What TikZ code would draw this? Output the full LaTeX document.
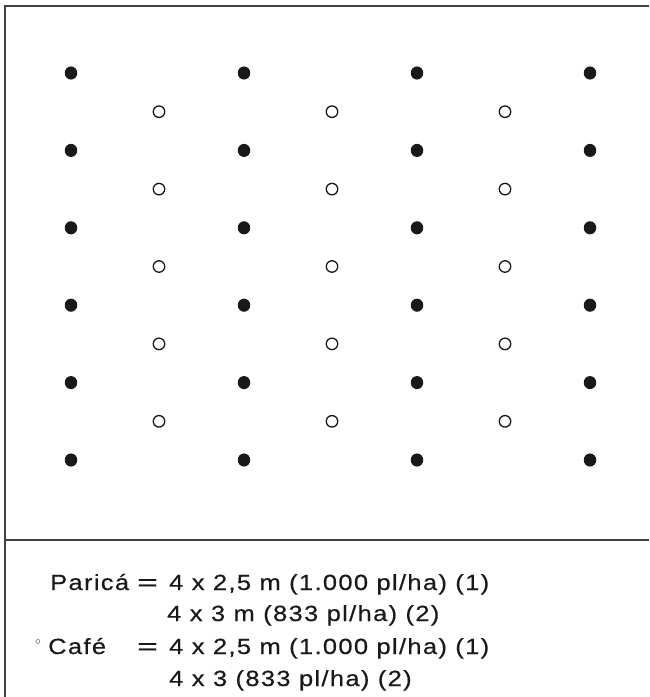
\documentclass[tikz,border=0pt]{standalone}
\usepackage{fontspec}
\newfontfamily\lab[FakeStretch=1.16,LetterSpace=6,FakeBold=0.4]{Liberation Sans}
\newfontfamily\eqf[FakeStretch=1.6,FakeBold=0.4]{Liberation Sans}
\newfontfamily\symf{DejaVu Sans}
\begin{document}
\begin{tikzpicture}[x=1pt,y=-1pt,
  frame/.style={draw=black!75,line width=1.3pt},
  plant/.style={circle,fill=black!90,inner sep=0pt,minimum width=12.5pt,minimum height=12.5pt,yscale=1.05},
  cafe/.style={circle,draw=black!90,line width=1.3pt,fill=white,inner sep=0pt,minimum size=11.5pt},
  txt/.style={anchor=base west,inner sep=0pt,font=\lab\fontsize{22}{26}\selectfont,text=black!90},
  eqs/.style={anchor=base west,inner sep=0pt,font=\eqf\fontsize{22}{26}\selectfont,text=black!90}]
\useasboundingbox (0,0) rectangle (649,697);
\fill[white] (0,0) rectangle (649,697);
% frame
\coordinate (tl) at (5,6);
\coordinate (tr) at (649,6);
\coordinate (bl) at (5,697);
\coordinate (ml) at (5,540);
\coordinate (mr) at (649,540);
\draw[frame] (tr) -- (tl) -- (bl);
\draw[frame] (ml) -- (mr);
% filled dots (Parica)
\foreach \i/\x in {1/71,2/244,3/417,4/590}{
  \foreach \j/\y in {1/73,2/150.4,3/227.8,4/305.2,5/382.6,6/460}{
    \node[plant] (p\i\j) at (\x,\y) {};
  }
}
% hollow dots (Cafe)
\foreach \i/\x in {1/159,2/332,3/505}{
  \foreach \j/\y in {1/111.7,2/189.1,3/266.5,4/343.9,5/421.3}{
    \node[cafe] (c\i\j) at (\x,\y) {};
  }
}
% legend
\node[txt] (l1a) at (50,590) {Paricá};
\node[eqs] (l1b) at (137,590) {=};
\node[txt] (l1c) at (169,590) {4 x 2,5 m (1.000 pl/ha) (1)};
\node[txt] (l2c) at (167,621) {4 x 3 m (833 pl/ha) (2)};
\node[inner sep=0pt,font=\symf\fontsize{15}{16}\selectfont,text=black!90] (l3s) at (38,644) {◦};
\node[txt] (l3a) at (48,654) {Café};
\node[eqs] (l3b) at (137,654) {=};
\node[txt] (l3c) at (169,654) {4 x 2,5 m (1.000 pl/ha) (1)};
\node[txt] (l4c) at (169,686) {4 x 3 (833 pl/ha) (2)};
\end{tikzpicture}
\end{document}
